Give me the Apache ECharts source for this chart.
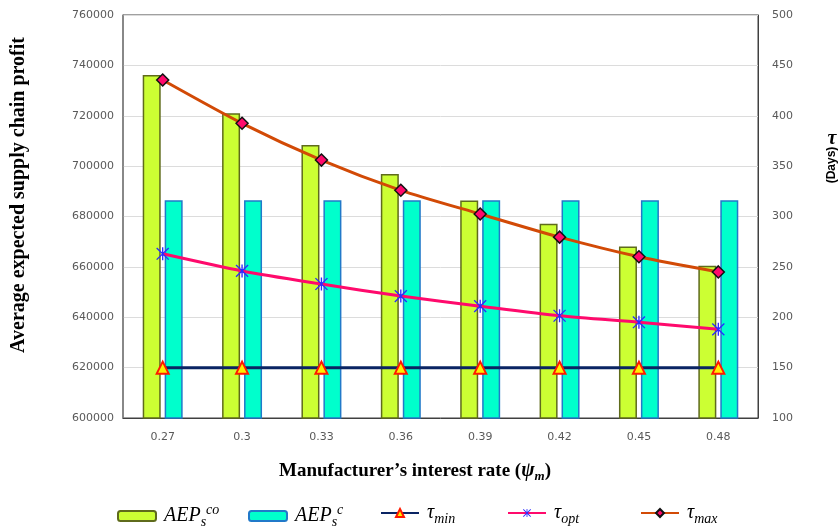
<!DOCTYPE html>
<html>
<head>
<meta charset="utf-8">
<script src="https://cdn.jsdelivr.net/npm/echarts@6/dist/echarts.min.js"></script>
<style>
  html, body { margin: 0; padding: 0; background: #fff; }
  #chart { width: 840px; height: 531px; }
</style>
</head>
<body>
<div id="chart"></div>
<script>
// Manufacturer's interest rate values on the category axis
const rates = ['0.27', '0.3', '0.33', '0.36', '0.39', '0.42', '0.45', '0.48'];

// Average expected supply chain profit (left axis)
const aepCo = [736200, 721000, 708400, 696900, 686400, 677100, 668100, 660400];
const aepC  = [686500, 686500, 686500, 686500, 686500, 686500, 686500, 686500];

// Cycle length tau in days (right axis)
const tauMin = [150, 150, 150, 150, 150, 150, 150, 150];
const tauOpt = [263, 246, 233, 221, 211, 201.5, 195, 188];
const tauMax = [435.5, 392.5, 356, 326, 302.5, 279.5, 260, 245];

// Left and right axis tick ranges
const profitTicks = { min: 600000, max: 760000, step: 20000 };
const dayTicks = { min: 100, max: 500, step: 50 };

const serif = 'Liberation Serif';
const tickFont = 'DejaVu Sans';

// Asterisk marker: vertical stroke plus two diagonals
const asterisk = 'path://M-1,-10 L1,-10 L1,10 L-1,10 Z ' +
  'M-9.7,-8.3 L-8.3,-9.7 L9.7,8.3 L8.3,9.7 Z ' +
  'M8.3,-9.7 L9.7,-8.3 L-8.3,9.7 L-9.7,8.3 Z';

const legendRich = {
  m:   { fontFamily: serif, fontStyle: 'italic', fontSize: 20, color: '#000', lineHeight: 26 },
  sub: { fontFamily: serif, fontStyle: 'italic', fontSize: 14, color: '#000', verticalAlign: 'bottom' },
  sup: { fontFamily: serif, fontStyle: 'italic', fontSize: 14, color: '#000', verticalAlign: 'top' }
};

// Series names, their legend labels and where each legend entry starts
const seriesNames = ['AEPco', 'AEPc', 'tmin', 'topt', 'tmax'];
const legendLabels = [
  '{m|AEP}{sub|s}{sup|co}',
  '{m|AEP}{sub|s}{sup|c}',
  '{m|τ}{sub|min}',
  '{m|τ}{sub|opt}',
  '{m|τ}{sub|max}'
];
const legendLeft = [117, 248, 380, 507, 640];

const plainNumber = v => String(v);

const legends = seriesNames.map((name, i) => ({
  top: 503,
  left: legendLeft[i],
  padding: 0,
  itemWidth: 38,
  itemHeight: 10,
  data: [name],
  formatter: () => legendLabels[i],
  textStyle: { rich: legendRich, padding: [0, 0, 0, 3] }
}));

const chart = echarts.init(document.getElementById('chart'), null, { renderer: 'canvas' });

chart.setOption({
  animation: false,
  backgroundColor: '#ffffff',
  grid: {
    left: 123, right: 82, top: 15, bottom: 113,
    show: true, borderColor: '#404040', borderWidth: 1
  },
  legend: legends,
  xAxis: {
    type: 'category',
    data: rates,
    axisLine: { lineStyle: { color: '#404040' } },
    axisTick: { show: false },
    axisLabel: { color: '#595959', fontFamily: tickFont, fontSize: 11, margin: 14 }
  },
  yAxis: [
    {
      type: 'value',
      min: profitTicks.min, max: profitTicks.max, interval: profitTicks.step,
      axisLine: { show: true, lineStyle: { color: '#808080', width: 1.5 } },
      axisTick: { show: false },
      splitLine: { lineStyle: { color: '#dcdcdc', width: 1 } },
      axisLabel: { color: '#595959', fontFamily: tickFont, fontSize: 11, margin: 9, formatter: plainNumber }
    },
    {
      type: 'value',
      min: dayTicks.min, max: dayTicks.max, interval: dayTicks.step,
      axisLine: { show: true, lineStyle: { color: '#404040' } },
      axisTick: { show: false },
      splitLine: { show: false },
      axisLabel: { color: '#595959', fontFamily: tickFont, fontSize: 11, margin: 14, formatter: plainNumber }
    }
  ],
  graphic: [
    {
      // left axis title
      type: 'text',
      x: 19, y: 195,
      rotation: Math.PI / 2,
      style: {
        text: 'Average expected supply chain profit',
        fontFamily: serif, fontWeight: 'bold', fontSize: 20, fill: '#000',
        align: 'center', verticalAlign: 'middle'
      }
    },
    {
      // category axis title
      type: 'text',
      x: 415, y: 471,
      style: {
        text: '{b|Manufacturer’s interest rate (}{bi|ψ}{s|m}{b|)}',
        align: 'center', verticalAlign: 'middle',
        rich: {
          b:  { fontFamily: serif, fontWeight: 'bold', fontSize: 19, fill: '#000', lineHeight: 24 },
          bi: { fontFamily: serif, fontWeight: 'bold', fontStyle: 'italic', fontSize: 20, fill: '#000' },
          s:  { fontFamily: serif, fontWeight: 'bold', fontStyle: 'italic', fontSize: 13, fill: '#000', verticalAlign: 'bottom' }
        }
      }
    },
    {
      // right axis title: upright tau above rotated unit
      type: 'text',
      x: 832, y: 139,
      style: {
        text: 'τ',
        fontFamily: serif, fontWeight: 'bold', fontStyle: 'italic', fontSize: 20, fill: '#000',
        align: 'center', verticalAlign: 'middle'
      }
    },
    {
      type: 'text',
      x: 832, y: 165,
      rotation: Math.PI / 2,
      style: {
        text: '(Days)',
        fontFamily: 'Liberation Sans', fontWeight: 'bold', fontSize: 12, fill: '#000',
        align: 'center', verticalAlign: 'middle'
      }
    }
  ],
  series: [
    {
      name: 'AEPco', type: 'bar', yAxisIndex: 0,
      data: aepCo,
      barWidth: 18, barGap: '22%',
      itemStyle: { color: '#ccff33', borderColor: '#5f6b1c', borderWidth: 1.5 }
    },
    {
      name: 'AEPc', type: 'bar', yAxisIndex: 0,
      data: aepC,
      barWidth: 18, barGap: '22%',
      itemStyle: { color: '#00ffcc', borderColor: '#2179c9', borderWidth: 1.5 }
    },
    {
      name: 'tmin', type: 'line', yAxisIndex: 1,
      data: tauMin,
      lineStyle: { color: '#0a2463', width: 3 },
      symbol: 'triangle', symbolSize: 12,
      itemStyle: { color: '#ffee00', borderColor: '#ff1a00', borderWidth: 2 },
      z: 5
    },
    {
      name: 'topt', type: 'line', yAxisIndex: 1,
      data: tauOpt,
      smooth: 0.25,
      lineStyle: { color: '#ff0a6c', width: 3 },
      symbol: asterisk, symbolSize: 13,
      itemStyle: { color: '#2b2bff', borderWidth: 0 },
      z: 5
    },
    {
      name: 'tmax', type: 'line', yAxisIndex: 1,
      data: tauMax,
      smooth: 0.25,
      lineStyle: { color: '#d24a06', width: 3 },
      symbol: 'diamond', symbolSize: 12,
      itemStyle: { color: '#ff0a6c', borderColor: '#111', borderWidth: 1.5 },
      z: 5
    }
  ]
});
</script>
</body>
</html>
